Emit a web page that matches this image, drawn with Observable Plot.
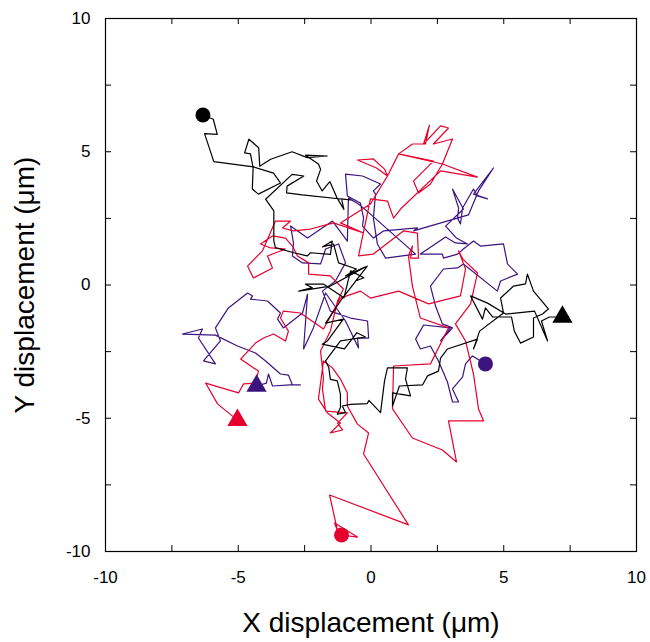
<!DOCTYPE html>
<html>
<head>
<meta charset="utf-8">
<script src="https://cdn.jsdelivr.net/npm/d3@7"></script>
<script src="https://cdn.jsdelivr.net/npm/@observablehq/plot@0.6"></script>
<style>
  html, body { margin: 0; padding: 0; background: #fff; }
  #chart svg { display: block; }
</style>
</head>
<body>
<div id="chart"></div>
<script>
// Trajectory series (µm); first point = circle (start), last = triangle (end)
const blackX = [-6.33,-5.94,-5.79,-6.27,-5.92,-4.43,-3.67,-3.41,-4.24,-4.47,-4.44,-4.54,-4.76,-4.60,-4.23,-4.19,-3.78,-2.97,-2.40,-1.65,-2.47,-1.98,-1.90,-2.05,-1.84,-1.55,-1.27,-1.02,-1.11,-0.77,-2.59,-3.18,-3.16,-2.53,-2.97,-3.97,-3.66,-3.66,-3.60,-2.91,-2.40,-2.28,-1.53,-1.46,-1.83,-1.41,-1.22,-0.55,-0.96,-0.21,-1.53,-2.72,-2.21,-2.47,-1.78,-1.02,-0.77,-0.27,-0.58,-0.14,-1.15,-1.71,-1.04,-1.64,-1.84,-1.00,-0.53,-0.21,-1.15,-1.71,-1.59,-1.53,-1.27,-1.15,-1.15,-1.27,-0.96,-1.08,-0.77,-0.14,-0.08,0.36,0.51,0.62,1.37,1.30,1.49,0.81,0.81,1.07,1.94,2.13,2.54,2.62,2.88,4.01,3.86,4.09,4.99,4.88,5.37,5.82,5.89,6.12,6.68,6.46,6.12,6.12,5.63,5.40,5.29,4.58,4.31,4.20,3.75,4.39,5.07,6.16,6.65,6.42,6.72,7.21];
const blackY = [6.38,6.22,5.65,5.68,4.63,4.43,4.20,3.83,3.41,3.60,4.40,4.92,4.96,5.47,5.15,4.46,4.72,5.00,4.78,4.84,4.87,4.54,4.34,3.90,3.53,3.88,3.25,2.84,3.23,3.19,3.38,3.46,3.71,4.09,4.15,3.22,2.78,1.65,1.40,1.21,1.09,1.21,1.15,1.65,1.43,1.54,0.83,0.60,0.34,0.68,-0.04,-0.23,-0.10,0.03,0.03,-0.48,0.53,0.27,0.15,0.71,-0.60,-1.43,-1.28,-2.10,-2.22,-2.40,-1.79,-1.95,-2.10,-2.85,-3.10,-3.54,-3.60,-4.10,-4.60,-4.85,-4.79,-4.54,-4.48,-4.45,-4.33,-4.79,-3.60,-3.11,-3.11,-3.53,-4.16,-4.05,-4.54,-3.79,-3.75,-3.41,-3.23,-2.74,-2.40,-2.03,-2.40,-1.73,-1.05,-0.49,-0.04,0.04,0.41,-0.23,-0.90,-1.09,-1.24,-1.95,-2.18,-1.73,-1.20,-1.20,-0.86,-1.28,-0.41,-0.68,-1.09,-0.98,-2.10,-1.35,-1.20,-1.20];

const redX = [-1.11,-0.51,-1.37,-1.26,-1.56,1.41,-0.28,-0.09,-0.51,-0.89,-0.89,-1.15,-1.45,
  -1.79,-1.98,-1.64,-1.15,-1.53,-1.07,-1.26,-0.89,-1.71,-1.83,-1.79,-1.90,
  -1.53,-1.26,-1.04,-1.53,-2.35,-2.35,-2.77,-2.96,-3.22,-3.71,-4.16,-3.78,-3.22,-3.90,-3.71,-4.43,-4.65,-4.09,-3.60,-3.03,-3.33,-2.92,-2.28,-1.41,-0.28,
  -1.15,-0.02,0.62,0.51,0.09,-0.51,0.21,0.62,1.04,1.56,2.05,2.20,1.98,2.62,2.92,2.35,3.07,2.69,2.24,1.79,1.60,2.35,1.04,2.69,4.01,2.62,1.15,0.85,0.62,-0.02,
  -0.47,0.09,1.22,1.75,1.79,1.49,1.56,1.41,1.56,1.86,2.92,2.24,0.85,0.81,1.56,2.69,3.22,2.92,4.24,4.05,3.86,3.56,3.18,3.75,4.01,3.45,3.30,3.56,3.37,2.17,1.04,-0.02,-0.40,-1.15,-1.79,-2.66,-3.30,-3.41,-3.11,-3.22,-3.67,-4.05,-4.35,-4.91,-4.24,-4.35,-4.80,-4.99,-6.23,-5.78,-5.03];
const redY = [-9.38,-9.46,-8.93,-9.23,-7.88,-9.00,-6.34,-5.55,-5.22,-4.54,-4.05,-3.53,-3.11,
  -2.85,-4.28,-4.80,-5.18,-5.55,-5.44,-5.18,-4.80,-4.73,-3.90,-3.49,-2.48,
  -1.73,-0.60,-0.15,0.34,0.41,0.83,1.09,1.46,1.76,1.84,1.54,1.39,1.35,1.09,0.64,0.26,0.71,1.28,2.40,2.40,2.14,2.03,2.10,2.33,1.95,
  2.33,3.04,4.09,4.35,4.73,4.69,4.39,4.09,4.92,5.29,5.29,6.00,5.29,5.97,5.89,5.29,5.48,4.54,3.79,3.45,3.90,4.65,4.92,4.54,4.05,4.28,2.89,2.51,3.15,3.23,
  1.09,1.16,2.03,1.95,1.01,1.01,1.46,1.09,-0.04,-1.24,-1.61,-2.96,-3.04,-4.65,-5.74,-6.19,-6.64,-5.10,-5.10,-4.65,-3.34,-2.10,-1.46,-0.71,0.45,0.98,1.28,0.60,-0.41,-0.71,-0.23,-0.49,-0.23,-0.49,-1.65,-1.05,-0.98,-1.24,-1.73,-2.10,-1.84,-1.99,-2.18,-2.78,-3.23,-3.68,-3.71,-4.05,-3.68,-4.46,-5.07];

const blueX = [4.31,3.82,3.56,3.45,3.07,3.30,3.07,2.88,2.54,2.24,1.86,1.68,1.98,2.99,2.62,3.07,2.69,2.43,2.24,2.73,3.26,3.48,4.76,4.88,5.52,5.14,4.99,4.12,3.86,3.48,3.26,2.73,2.69,1.86,2.81,3.18,3.63,3.22,2.81,3.48,3.07,3.30,3.26,3.37,3.45,3.86,4.01,4.39,3.86,4.61,4.05,3.67,1.60,1.75,0.47,0.09,-0.32,-0.28,-0.40,-0.89,-0.96,-0.32,0.36,0.09,0.17,0.09,0.24,0.55,1.68,-0.02,-0.47,-0.85,-0.89,-1.45,-2.39,-3.03,-2.92,-2.96,-2.58,-1.90,-1.71,-1.22,-0.96,-1.34,-1.83,-1.53,-0.77,-0.13,-0.09,-0.51,-0.47,-0.96,-1.71,-2.17,-2.54,-2.39,-2.58,-3.30,-3.52,-3.41,-3.90,-4.54,-4.46,-4.65,-5.37,-5.86,-5.67,-6.31,-5.86,-6.50,-6.35,-7.10,-5.86,-5.03,-4.35,-3.97,-3.41,-3.11,-2.96,-2.66,-3.03,-3.71,-3.86,-3.94,-4.31];
const blueY = [-2.96,-2.66,-2.96,-3.45,-3.90,-4.39,-4.39,-3.64,-2.85,-2.29,-2.40,-2.03,-1.50,-1.61,-2.10,-1.61,-1.46,-0.79,-0.04,0.60,0.64,0.79,-0.23,0.15,0.41,0.79,1.54,1.46,1.65,1.35,1.16,1.01,1.16,1.16,1.80,1.58,1.54,1.76,2.21,2.85,3.60,2.89,2.51,2.29,2.89,3.60,3.34,3.23,3.41,4.39,3.53,2.63,2.03,2.14,2.03,1.76,2.21,2.51,3.08,3.34,4.16,4.09,3.79,3.53,3.41,2.51,1.54,1.01,1.16,2.66,3.04,3.26,1.65,2.40,1.76,2.21,1.58,1.09,0.83,0.79,1.35,1.54,0.83,0.15,-0.23,-0.98,-1.24,-1.35,-1.99,-1.99,-2.36,-1.35,-0.30,-1.61,-2.40,-0.34,-1.05,-1.61,-1.28,-1.05,-0.60,-0.53,-0.41,-0.30,-0.86,-1.61,-2.10,-2.85,-2.96,-1.99,-1.65,-1.84,-1.88,-2.29,-2.55,-2.85,-3.34,-3.38,-3.75,-3.75,-3.75,-3.79,-3.34,-3.68,-3.79];

const seriesNames = ["blue", "red", "black"];
const seriesColors = ["#3c1480", "#e6002d", "#000000"];
const majorTicks = [-10, -5, 0, 5, 10];
const minorTicks = [-10, -7.5, -5, -2.5, 0, 2.5, 5, 7.5, 10];
const xTitle = "X displacement (\u03bcm)";
const yTitle = "Y displacement (\u03bcm)";

const xs = {blue: blueX, red: redX, black: blackX};
const ys = {blue: blueY, red: redY, black: blackY};
const color = Object.fromEntries(seriesNames.map((s, i) => [s, seriesColors[i]]));

const tracks = seriesNames.flatMap(s => xs[s].map((x, i) => ({series: s, x, y: ys[s][i]})));
const starts = seriesNames.map(s => ({series: s, x: xs[s][0], y: ys[s][0]}));
const ends = seriesNames.map(s => ({series: s, x: xs[s][xs[s].length - 1], y: ys[s][ys[s].length - 1]}));

const W = 650, H = 642, mL = 105, mR = 14, mT = 18, mB = 91;
const plotH = H - mT - mB, plotW = W - mL - mR, tl = 6;

const chart = Plot.plot({
  width: W, height: H,
  marginLeft: mL, marginRight: mR, marginTop: mT, marginBottom: mB,
  style: {fontFamily: "'Liberation Sans', Arial, Helvetica, sans-serif", background: "#fff", color: "#000"},
  x: {domain: [-10, 10]},
  y: {domain: [-10, 10]},
  marks: [
    // inward ticks on all four sides
    Plot.tickX(minorTicks, {x: d => d, insetTop: plotH - tl, stroke: "#000", strokeWidth: 1}),
    Plot.tickX(minorTicks, {x: d => d, insetBottom: plotH - tl, stroke: "#000", strokeWidth: 1}),
    Plot.tickY(minorTicks, {y: d => d, insetRight: plotW - tl, stroke: "#000", strokeWidth: 1}),
    Plot.tickY(minorTicks, {y: d => d, insetLeft: plotW - tl, stroke: "#000", strokeWidth: 1}),
    Plot.axisX(majorTicks, {tickSize: 0, tickPadding: 19, fontSize: 17, tickFormat: d => String(d), label: null}),
    Plot.axisY(majorTicks, {tickSize: 0, tickPadding: 15, fontSize: 17, tickFormat: d => String(d), label: null}),
    Plot.line(tracks, {x: "x", y: "y", z: "series", stroke: d => color[d.series], strokeWidth: 1.2, curve: "linear"}),
    Plot.frame({stroke: "#000", strokeWidth: 1.2}),
    Plot.dot(starts, {x: "x", y: "y", r: 7.5, symbol: "circle", fill: d => color[d.series], stroke: "none"}),
    Plot.dot(ends, {x: "x", y: "y", r: 7.5, symbol: "triangle", fill: d => color[d.series], stroke: "none"}),
    Plot.text([xTitle], {frameAnchor: "bottom", dy: 72, text: d => d, fontSize: 28, textAnchor: "middle", lineAnchor: "middle", fill: "#000"}),
    Plot.text([yTitle], {frameAnchor: "left", dx: -80, rotate: -90, text: d => d, fontSize: 28, textAnchor: "middle", lineAnchor: "middle", fill: "#000"})
  ]
});
document.getElementById("chart").appendChild(chart);
</script>
</body>
</html>
